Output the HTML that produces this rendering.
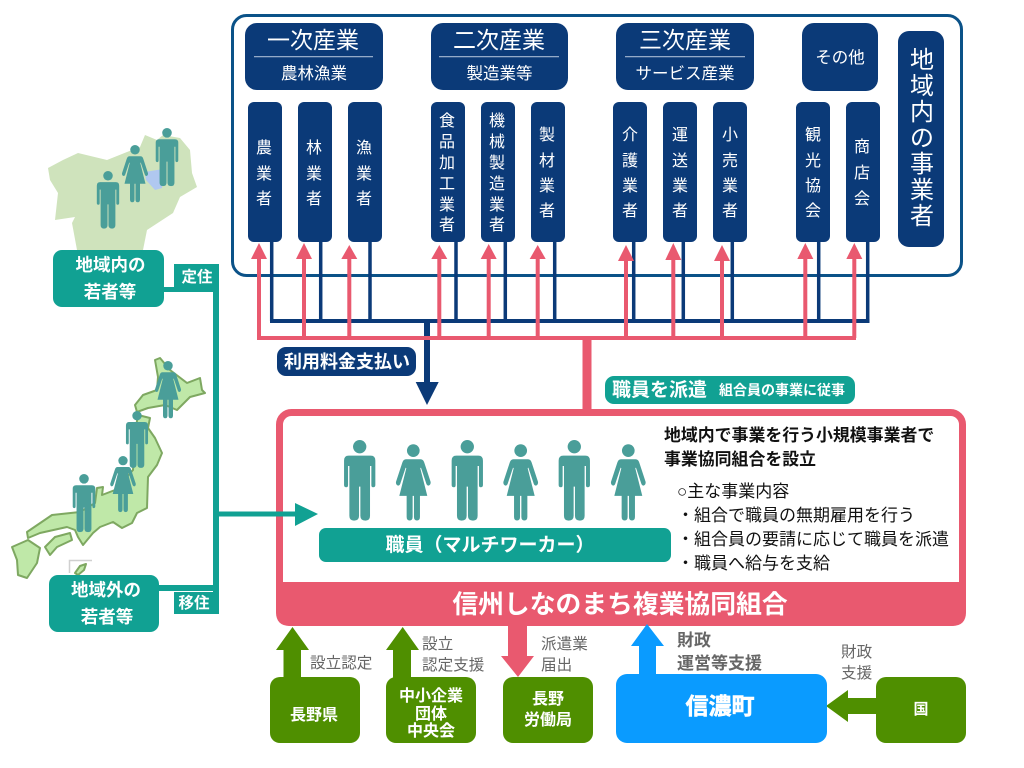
<!DOCTYPE html>
<html lang="ja">
<head>
<meta charset="utf-8">
<title>信州しなのまち複業協同組合</title>
<style>
html,body{margin:0;padding:0;background:#fff;width:1024px;height:768px;overflow:hidden}
svg{display:block;font-family:"Liberation Sans","Noto Sans CJK JP",sans-serif}
.w{fill:#fff;text-anchor:middle}
.b{font-weight:700}
.g{fill:#666}
.k{fill:#111}
</style>
</head>
<body>
<svg width="1024" height="768" viewBox="0 0 1024 768" xmlns="http://www.w3.org/2000/svg">
<defs>
<g id="man" fill="#4a9e99">
<circle cx="0" cy="20" r="20"/>
<path d="M-33,47H33Q47,47 47,62V135Q47,142 40,142Q35,142 35,135V78H31V228Q31,242 17,242Q2,242 2,228V140H-2V228Q-2,242 -17,242Q-31,242 -31,228V78H-35V135Q-35,142 -40,142Q-47,142 -47,135V62Q-47,47 -33,47Z"/>
</g>
<g id="woman" fill="#4a9e99">
<circle cx="0" cy="19" r="19"/>
<path d="M-22,45H22Q30,45 33,55L52,113Q53,122 46,124Q41,124 39,118L23,70L21,72L42,155H20V218Q20,229 11,229Q2,229 2,218V155H-2V218Q-2,229 -11,229Q-20,229 -20,218V155H-42L-21,72L-23,70L-39,118Q-41,124 -46,124Q-53,122 -52,113L-33,55Q-30,45 -22,45Z"/>
</g>
</defs>

<rect x="232.5" y="15.5" width="729" height="260" rx="14" fill="#fff" stroke="#0b5288" stroke-width="3"/>

<!-- headers -->
<g fill="#0b3a78">
<rect x="245" y="23" width="138" height="67" rx="12"/>
<rect x="431" y="23" width="137" height="67" rx="12"/>
<rect x="616" y="23" width="138" height="67" rx="12"/>
<rect x="802" y="23" width="76" height="68" rx="12"/>
<rect x="898" y="31" width="46" height="216" rx="11"/>
<rect x="248" y="102" width="34" height="140" rx="6"/>
<rect x="298" y="102" width="34" height="140" rx="6"/>
<rect x="348" y="102" width="34" height="140" rx="6"/>
<rect x="431" y="102" width="34" height="140" rx="6"/>
<rect x="481" y="102" width="34" height="140" rx="6"/>
<rect x="531" y="102" width="34" height="140" rx="6"/>
<rect x="613" y="102" width="34" height="140" rx="6"/>
<rect x="663" y="102" width="34" height="140" rx="6"/>
<rect x="713" y="102" width="34" height="140" rx="6"/>
<rect x="796" y="102" width="34" height="140" rx="6"/>
<rect x="846" y="102" width="34" height="140" rx="6"/>
</g>
<g stroke="#a9bbd3" stroke-width="1.2">
<line x1="254" y1="56.7" x2="373" y2="56.7"/>
<line x1="439" y1="56.7" x2="559" y2="56.7"/>
<line x1="625" y1="56.7" x2="745" y2="56.7"/>
</g>
<g class="w" font-size="23">
<text x="313" y="48">一次産業</text>
<text x="499" y="48">二次産業</text>
<text x="685" y="48">三次産業</text>
</g>
<g class="w" font-size="16.5">
<text x="314" y="79">農林漁業</text>
<text x="499.5" y="79">製造業等</text>
<text x="685" y="79">サービス産業</text>
<text x="840" y="63">その他</text>
</g>

<!-- vertical labels -->
<g class="w" font-size="16">
<text x="264" y="153">農</text><text x="264" y="179">業</text><text x="264" y="204">者</text>
<text x="314" y="153">林</text><text x="314" y="179">業</text><text x="314" y="204">者</text>
<text x="364" y="153">漁</text><text x="364" y="179">業</text><text x="364" y="204">者</text>
<text x="447" y="126">食</text><text x="447" y="147">品</text><text x="447" y="168">加</text><text x="447" y="189">工</text><text x="447" y="210">業</text><text x="447" y="230">者</text>
<text x="497" y="126">機</text><text x="497" y="147">械</text><text x="497" y="168">製</text><text x="497" y="189">造</text><text x="497" y="210">業</text><text x="497" y="230">者</text>
<text x="547" y="140">製</text><text x="547" y="166">材</text><text x="547" y="191">業</text><text x="547" y="216">者</text>
<text x="630" y="140">介</text><text x="630" y="166">護</text><text x="630" y="191">業</text><text x="630" y="216">者</text>
<text x="680" y="140">運</text><text x="680" y="166">送</text><text x="680" y="191">業</text><text x="680" y="216">者</text>
<text x="730" y="140">小</text><text x="730" y="166">売</text><text x="730" y="191">業</text><text x="730" y="216">者</text>
<text x="813" y="140">観</text><text x="813" y="166">光</text><text x="813" y="191">協</text><text x="813" y="216">会</text>
<text x="862" y="152">商</text><text x="862" y="178">店</text><text x="862" y="204">会</text>
</g>
<g class="w" font-size="24">
<text x="922" y="68">地</text><text x="922" y="94">域</text><text x="922" y="120">内</text><text x="922" y="146">の</text><text x="922" y="172">事</text><text x="922" y="198">業</text><text x="922" y="224">者</text>
</g>

<!-- navy connectors -->
<g stroke="#0b3a78" stroke-width="3.5" fill="none">
<path d="M271.7,242V321M320.7,242V321M370,242V321M456,242V321M505.3,242V321M554.7,242V321M633.7,242V321M683.3,242V321M732.3,242V321M818.7,242V321M867.7,242V321"/>
<line x1="270" y1="321" x2="869.5" y2="321" stroke-width="4"/>
<line x1="427" y1="321" x2="427" y2="383" stroke-width="6"/>
</g>
<polygon points="415.7,382 438.7,382 427,405" fill="#0b3a78"/>

<!-- main frame -->
<rect x="279.5" y="412.5" width="683" height="210" rx="12" fill="#fff" stroke="#e9596f" stroke-width="7"/>
<path d="M276,582H966V612Q966,626 952,626H290Q276,626 276,612Z" fill="#e9596f"/>

<!-- pink connectors -->
<g stroke="#e9596f" stroke-width="4" fill="none">
<path d="M259,257V338M304,257V338M349.3,257V338M439.3,257V338M488.7,257V338M537.7,257V338M626,257V338M673.3,257V338M722,257V338M805.3,257V338M854.3,257V338"/>
<line x1="257" y1="338" x2="856" y2="338"/>
<line x1="587" y1="338" x2="587" y2="412" stroke-width="9"/>
</g>
<g fill="#e9596f">
<polygon points="251,259 267,259 259,243"/>
<polygon points="296,259 312,259 304,243"/>
<polygon points="341.3,259 357.3,259 349.3,245"/>
<polygon points="431.3,259 447.3,259 439.3,245"/>
<polygon points="480.7,259 496.7,259 488.7,244"/>
<polygon points="529.7,259 545.7,259 537.7,245"/>
<polygon points="618,261 634,261 626,245"/>
<polygon points="665.3,260 681.3,260 673.3,243"/>
<polygon points="714,261 730,261 722,245"/>
<polygon points="797.3,259 813.3,259 805.3,243"/>
<polygon points="846.3,259 862.3,259 854.3,243"/>
</g>

<rect x="277" y="347" width="139" height="29" rx="9" fill="#0b3a78"/>
<text class="w b" x="347" y="368" font-size="18">利用料金支払い</text>

<rect x="605" y="376" width="250" height="28" rx="9" fill="#11a193"/>
<text class="b" x="612" y="396" font-size="19" fill="#fff">職員を派遣</text>
<text class="b" x="719" y="395" font-size="14" fill="#fff">組合員の事業に従事</text>

<!-- people -->
<use href="#man" transform="translate(359.7,440) scale(.333)"/>
<use href="#woman" transform="translate(413.3,444.3) scale(.333)"/>
<use href="#man" transform="translate(467.3,440) scale(.333)"/>
<use href="#woman" transform="translate(520.7,444.3) scale(.333)"/>
<use href="#man" transform="translate(574.3,440) scale(.333)"/>
<use href="#woman" transform="translate(628.3,444.3) scale(.333)"/>

<rect x="319" y="528" width="352" height="34" rx="7" fill="#11a193"/>
<text class="w b" x="490" y="551" font-size="19">職員（マルチワーカー）</text>

<text class="k b" x="664" y="441" font-size="16.9">地域内で事業を行う小規模事業者で</text>
<text class="k b" x="664" y="465" font-size="16.9">事業協同組合を設立</text>
<g class="k" font-size="17">
<text x="677" y="497">○主な事業内容</text>
<text x="677" y="521">・組合で職員の無期雇用を行う</text>
<text x="677" y="545">・組合員の要請に応じて職員を派遣</text>
<text x="677" y="569">・職員へ給与を支給</text>
</g>
<text class="w b" x="620" y="613" font-size="25.8">信州しなのまち複業協同組合</text>

<!-- local map -->
<polygon points="48,168 63,160 78,153 107,160 127,152 140,147 145,135 157,140 163,135 180,138 190,150 192,173 197,187 180,197 173,213 147,230 143,250 77,250 72,223 75,217 55,220 58,193 50,180" fill="#cfe3bc"/>
<polygon points="145,172 163,169 162,188 155,190 146,180" fill="#b0c8f0"/>
<use href="#man" transform="translate(108,171) scale(.238)"/>
<use href="#woman" transform="translate(135,145) scale(.25)"/>
<use href="#man" transform="translate(167,128) scale(.24)"/>

<!-- Japan map -->
<g fill="#bfe8a8" stroke="#7ea861" stroke-width="2" stroke-linejoin="round">
<polygon points="155,360 160,358 170,370 187,383 200,378 202,390 205,393 190,397 177,410 165,405 148,408 137,412 135,405 143,395 157,390 158,377"/>
<polygon points="138,415 150,418 148,428 155,438 162,453 157,465 148,477 147,508 137,513 132,523 122,528 113,522 100,527 93,533 83,545 78,537 75,530 67,527 40,533 28,538 27,532 52,515 80,512 95,503 97,488 103,487 102,495 115,490 133,470 135,433"/>
<polygon points="45,547 55,537 70,533 72,540 57,547 50,555"/>
<polygon points="12,547 28,540 40,548 37,563 27,578 18,575 17,560"/>
<polygon points="75,573 80,566 86,564 84,570 78,575"/>
</g>
<path d="M69.5,573V560.5H92" fill="none" stroke="#d0d0d0" stroke-width="1.5"/>
<use href="#woman" transform="translate(168,361) scale(.25)"/>
<use href="#man" transform="translate(137,411) scale(.235)"/>
<use href="#woman" transform="translate(123,456) scale(.245)"/>
<use href="#man" transform="translate(84,474) scale(.24)"/>

<!-- teal structure -->
<g fill="#11a193">
<rect x="213" y="288" width="6" height="326"/>
<rect x="160" y="287" width="56" height="5"/>
<rect x="174" y="264" width="45" height="28"/>
<rect x="155" y="585" width="64" height="6"/>
<rect x="174" y="592" width="45" height="22"/>
<rect x="53" y="250" width="111" height="57" rx="9"/>
<rect x="49" y="575" width="110" height="57" rx="9"/>
<rect x="216" y="511.5" width="80" height="5"/>
<polygon points="295,503 318,514 295,526"/>
</g>
<g class="w b">
<text x="110.5" y="271" font-size="17.5">地域内の</text>
<text x="110" y="298" font-size="17.5">若者等</text>
<text x="106" y="596" font-size="17.5">地域外の</text>
<text x="107" y="623" font-size="17.5">若者等</text>
<text x="197" y="282" font-size="15.5">定住</text>
<text x="194" y="608" font-size="15.5">移住</text>
</g>

<!-- bottom -->
<g fill="#4f8f00">
<rect x="270" y="677" width="90" height="66" rx="10"/>
<rect x="386" y="677" width="90" height="66" rx="10"/>
<rect x="503" y="677" width="90" height="66" rx="10"/>
<rect x="876" y="677" width="90" height="66" rx="10"/>
<polygon points="292.5,627 309,650 301,650 301,678 283.5,678 283.5,650 276,650"/>
<polygon points="402.7,627 419,650 411,650 411,678 393,678 393,650 386,650"/>
<polygon points="826,706 848,690 848,698 877,698 877,714 848,714 848,722"/>
</g>
<polygon points="508,625 527,625 527,656 534,656 518,677 501,656 508,656" fill="#e9596f"/>
<rect x="616" y="674" width="211" height="69" rx="11" fill="#0a9bff"/>
<polygon points="647,624 664,646 656,646 656,676 639,676 639,646 631,646" fill="#0a9bff"/>

<g class="g" font-size="15.6">
<text x="310" y="668">設立認定</text>
<text x="422" y="649">設立</text>
<text x="422" y="670">認定支援</text>
<text x="541" y="649">派遣業</text>
<text x="541" y="670">届出</text>
<text x="841" y="657">財政</text>
<text x="841" y="678">支援</text>
</g>
<g class="g b" font-size="17">
<text x="677" y="646">財政</text>
<text x="677" y="669">運営等支援</text>
</g>
<g class="w b">
<text x="314" y="720" font-size="16">長野県</text>
<text x="431" y="701" font-size="16">中小企業</text>
<text x="431" y="719" font-size="16">団体</text>
<text x="431" y="736" font-size="16">中央会</text>
<text x="548" y="704" font-size="16">長野</text>
<text x="548" y="725" font-size="16">労働局</text>
<text x="921" y="714" font-size="15">国</text>
<text x="720" y="714" font-size="23" stroke="#fff" stroke-width=".6">信濃町</text>
</g>
</svg>
</body>
</html>
